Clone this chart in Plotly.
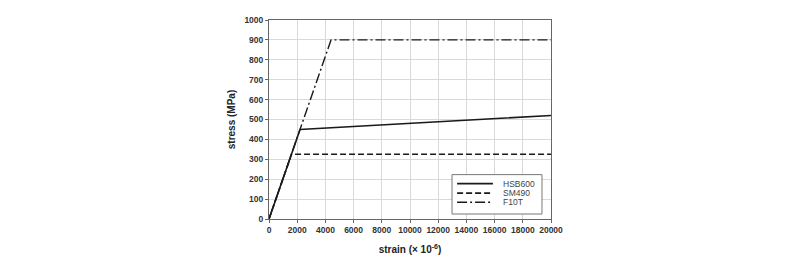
import plotly.graph_objects as go

hsb600_strain = [0, 2200, 20000]
hsb600_stress = [0, 450, 520]
sm490_strain = [0, 1600, 20000]
sm490_stress = [0, 325, 325]
f10t_strain = [0, 4400, 20000]
f10t_stress = [0, 900, 900]

series = [
    ("HSB600", hsb600_strain, hsb600_stress, "solid", 1.6),
    ("SM490", sm490_strain, sm490_stress, "6px,3px", 1.6),
    ("F10T", f10t_strain, f10t_stress, "10px,3px,2px,3px", 1.4),
]

fig = go.Figure()
for name, xs, ys, dash, w in series:
    fig.add_trace(go.Scatter(x=xs, y=ys, mode="lines", name=name, showlegend=False,
                             line=dict(color="#1a1a1a", width=w, dash=dash)))

# manual compact legend (paper coordinates)
fig.add_shape(type="rect", xref="paper", yref="paper", x0=0.649, x1=0.968, y0=0.025, y1=0.223,
              line=dict(color="#777", width=1), fillcolor="white", layer="above")
row_y = [0.178, 0.130, 0.084]
for (name, xs, ys, dash, w), yy in zip(series, row_y):
    fig.add_shape(type="line", xref="paper", yref="paper", x0=0.667, x1=0.794, y0=yy, y1=yy,
                  line=dict(color="#1a1a1a", width=w, dash=dash), layer="above")
    fig.add_annotation(x=0.823, y=yy, xref="paper", yref="paper", text=name, showarrow=False,
                       xanchor="left", yanchor="middle", font=dict(size=8.5, color="#444"))

fig.update_layout(
    width=800, height=265,
    margin=dict(l=269, r=249, t=20, b=42),
    paper_bgcolor="white", plot_bgcolor="white",
    font=dict(family="Liberation Sans, Arial, sans-serif", color="#333"),
    showlegend=False,
    xaxis=dict(range=[0, 20000], dtick=2000, tickformat="d", showgrid=True, gridcolor="#d9d9d9", gridwidth=1,
               showline=True, linecolor="#666", linewidth=1, mirror=True,
               ticks="outside", ticklen=3, tickcolor="#666", zeroline=False,
               tickfont=dict(size=8.5, color="#333", weight="bold"),
               title=dict(text="strain (× 10<sup>-6</sup>)", font=dict(size=10, color="#222", weight="bold"), standoff=11)),
    yaxis=dict(range=[0, 1000], dtick=100, tickformat="d", showgrid=True, gridcolor="#d9d9d9", gridwidth=1,
               showline=True, linecolor="#666", linewidth=1, mirror=True,
               ticks="outside", ticklen=3, tickcolor="#666", zeroline=False,
               tickfont=dict(size=8.5, color="#333", weight="bold"),
               title=dict(text="stress (MPa)", font=dict(size=10, color="#222", weight="bold"), standoff=6)),
)

fig.write_html("out.html")
